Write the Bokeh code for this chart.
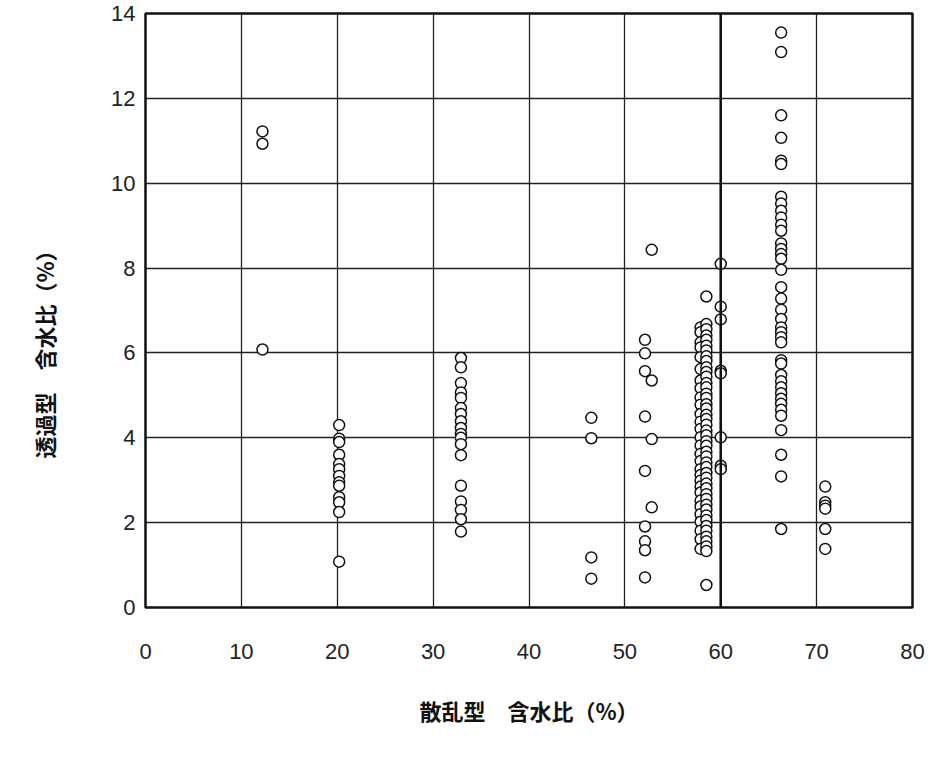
from bokeh.plotting import figure
from bokeh.models import Range1d, FixedTicker, Span, ColumnDataSource
from bokeh.embed import file_html
from bokeh.resources import INLINE

# ---- data ----
x_ticks = [0, 10, 20, 30, 40, 50, 60, 70, 80]
y_ticks = [0, 2, 4, 6, 8, 10, 12, 14]
x_label = "散乱型　含水比（%）"
y_label = "透過型　含水比（%）"
threshold_x = 60

col12_x = 12.2
col12_y = [11.22, 10.93, 6.08]

col20_x = 20.2
col20_y = [4.30, 3.98, 3.90, 3.60, 3.38, 3.26, 3.10, 2.95, 2.87, 2.60, 2.48, 2.25, 1.08]

col33_x = 32.9
col33_y = [5.88, 5.66, 5.29, 5.07, 4.94, 4.70, 4.56, 4.39, 4.23, 4.09, 4.00, 3.85,
           3.59, 2.87, 2.50, 2.30, 2.08, 1.79]

col46_x = 46.5
col46_y = [4.47, 3.99, 1.18, 0.68]

col52a_x = 52.1
col52a_y = [6.31, 5.99, 5.57, 4.50, 3.22, 1.91, 1.56, 1.35, 0.71]

col52b_x = 52.8
col52b_y = [8.43, 5.35, 3.97, 2.36]

col58a_x = 57.9
col58a_y = [6.60, 6.49, 6.25, 6.13, 5.90, 5.62, 5.35, 5.17, 4.95, 4.78, 4.56, 4.38,
            4.21, 4.01, 3.82, 3.62, 3.45, 3.26, 3.12, 2.99, 2.85, 2.71, 2.52, 2.38,
            2.20, 2.02, 1.81, 1.61, 1.38]

col58b_x = 58.5
col58b_y = [7.33, 6.68, 6.56, 6.41, 6.31, 6.17, 6.06, 5.92, 5.81, 5.66, 5.55, 5.44,
            5.29, 5.19, 5.04, 4.94, 4.79, 4.69, 4.54, 4.44, 4.31, 4.17, 4.06, 3.92,
            3.81, 3.67, 3.56, 3.42, 3.31, 3.17, 3.06, 2.92, 2.81, 2.67, 2.56, 2.42,
            2.31, 2.17, 2.06, 1.92, 1.81, 1.67, 1.56, 1.44, 1.33, 0.53]

col60_x = 60.0
col60_y = [8.10, 7.09, 6.79, 5.58, 5.52, 4.01, 3.34, 3.26]

col66_x = 66.3
col66_y = [13.55, 13.09, 11.60, 11.07, 10.53, 10.45, 9.68, 9.52, 9.35, 9.19, 9.02,
           8.88, 8.58, 8.45, 8.33, 8.22, 7.96, 7.55, 7.28, 7.02, 6.80, 6.60, 6.49,
           6.37, 6.25, 5.83, 5.75, 5.48, 5.33, 5.19, 5.05, 4.92, 4.80, 4.66, 4.52,
           4.18, 3.60, 3.09, 1.85]

col71_x = 70.9
col71_y = [2.85, 2.48, 2.40, 2.33, 1.85, 1.38]

columns = [
    (col12_x, col12_y), (col20_x, col20_y), (col33_x, col33_y), (col46_x, col46_y),
    (col52a_x, col52a_y), (col52b_x, col52b_y), (col58a_x, col58a_y),
    (col58b_x, col58b_y), (col60_x, col60_y), (col66_x, col66_y), (col71_x, col71_y),
]

xs, ys = [], []
for cx, cy in columns:
    xs.extend([cx] * len(cy))
    ys.extend(cy)
src = ColumnDataSource(dict(x=xs, y=ys))

# ---- figure ----
p = figure(
    frame_width=767, frame_height=594,
    min_border_left=145, min_border_top=13, min_border_right=18, min_border_bottom=130,
    x_range=Range1d(x_ticks[0], x_ticks[-1]), y_range=Range1d(y_ticks[0], y_ticks[-1]),
    output_backend="svg", toolbar_location=None,
)
p.background_fill_color = "white"
p.border_fill_color = "white"
p.outline_line_color = "#111111"
p.outline_line_width = 2.5

for ax in (p.xaxis[0], p.yaxis[0]):
    ax.axis_line_color = None
    ax.major_tick_line_color = None
    ax.minor_tick_line_color = None
    ax.major_label_text_font = "Liberation Sans"
    ax.major_label_text_font_size = "22px"
    ax.major_label_text_color = "#222222"
    ax.axis_label_text_font = "Noto Sans CJK JP"
    ax.axis_label_text_font_style = "bold"
    ax.axis_label_text_font_size = "22px"
    ax.axis_label_text_color = "#111111"

p.xaxis.ticker = FixedTicker(ticks=x_ticks)
p.yaxis.ticker = FixedTicker(ticks=y_ticks)
p.xaxis.axis_label = x_label
# ideographic spaces at the end push the label down, as in the reference
p.yaxis.axis_label = y_label + "\u3000" * 4
p.xaxis.major_label_standoff = 30
p.xaxis.axis_label_standoff = 32
p.yaxis.major_label_standoff = 4
p.yaxis.axis_label_standoff = 48

p.xgrid.ticker = FixedTicker(ticks=x_ticks)
p.ygrid.ticker = FixedTicker(ticks=y_ticks)
for g in (p.xgrid[0], p.ygrid[0]):
    g.grid_line_color = "#222222"
    g.grid_line_width = 1.3
    g.grid_line_alpha = 1.0

p.add_layout(Span(location=threshold_x, dimension="height", line_color="#111111", line_width=2.5))

p.scatter("x", "y", source=src, marker="circle", size=11,
          fill_color="white", line_color="#111111", line_width=1.5)

open("out.html", "w").write(file_html(p, INLINE))
